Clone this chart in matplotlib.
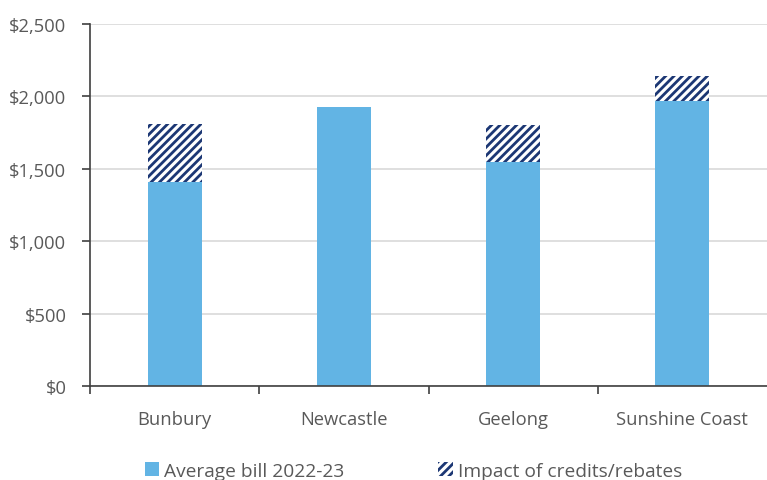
import matplotlib
matplotlib.use("Agg")
import matplotlib.pyplot as plt
from matplotlib.patches import Patch
from matplotlib.ticker import FuncFormatter, FixedLocator

cities = ["Bunbury", "Newcastle", "Geelong", "Sunshine Coast"]
average_bill = [1410, 1930, 1550, 1970]
credits_rebates = [400, 0, 255, 170]

BLUE = "#62B4E4"
NAVY = "#1C3774"
TEXT = "#595959"

plt.rcParams["font.family"] = ["Open Sans", "DejaVu Sans"]
plt.rcParams["hatch.linewidth"] = 2.0

fig = plt.figure(figsize=(7.67, 4.81), dpi=100)
ax = fig.add_axes([90 / 767, (481 - 387) / 481, (767 - 90) / 767, (387 - 25) / 481])

x = list(range(len(cities)))
width = 0.32
ax.bar(x, average_bill, width=width, color=BLUE, zorder=2)
ax.bar(x, credits_rebates, width=width, bottom=average_bill, facecolor="white",
       edgecolor=NAVY, linewidth=0, hatch="////", zorder=2)

ax.set_xlim(-0.5, len(cities) - 0.5)
ax.set_ylim(0, 2500)
ax.set_yticks(range(0, 2501, 500))
ax.yaxis.set_major_formatter(FuncFormatter(lambda v, p: f"${v:,.0f}"))
ax.grid(axis="y", color="#D9D9D9", linewidth=1.2, zorder=0)

ax.set_xticks(x)
ax.set_xticklabels(cities)
ax.tick_params(axis="x", which="major", length=0, pad=17, labelsize=13.2, labelcolor=TEXT)
ax.xaxis.set_minor_locator(FixedLocator([-0.5, 0.5, 1.5, 2.5]))
ax.tick_params(axis="x", which="minor", length=6, width=1.2, color="#404040", direction="out")
ax.tick_params(axis="y", length=6, width=1.2, color="#404040", direction="out",
               labelsize=13.2, labelcolor=TEXT, pad=11)

for side in ("top", "right"):
    ax.spines[side].set_visible(False)
for side in ("left", "bottom"):
    ax.spines[side].set_color("#404040")
    ax.spines[side].set_linewidth(1.2)

handles = [
    Patch(facecolor=BLUE, label="Average bill 2022-23"),
    Patch(facecolor="white", edgecolor=NAVY, linewidth=0, hatch="////",
          label="Impact of credits/rebates"),
]
fig.legend(handles=handles, loc="lower center", bbox_to_anchor=(0.539, -0.035), ncol=2,
           frameon=False, fontsize=13.8, labelcolor=TEXT, handlelength=0.75,
           handleheight=0.75, handletextpad=0.25, columnspacing=4.9)

fig.savefig("out.png", dpi=100)
